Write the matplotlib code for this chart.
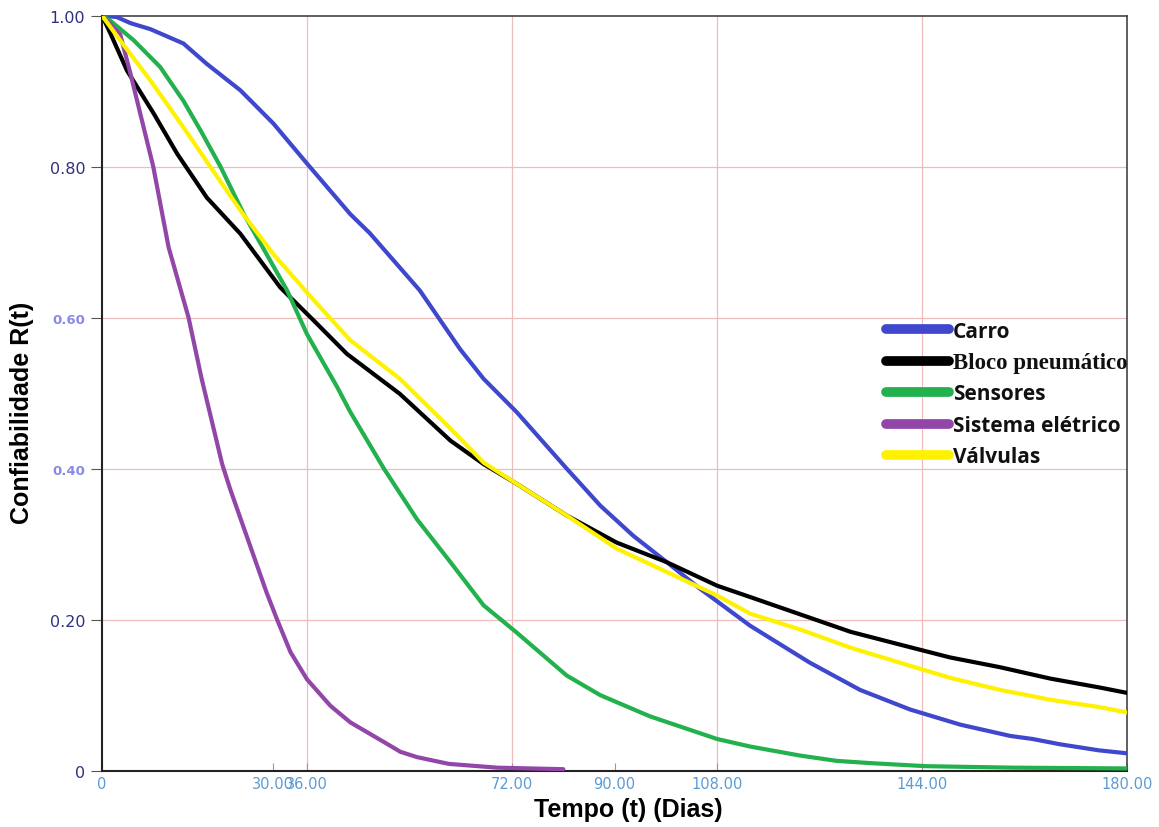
import matplotlib
matplotlib.use("Agg")
import matplotlib.pyplot as plt
from matplotlib.lines import Line2D

# ---------------- data ----------------
t_carro = [0, 2.6, 5, 8.5, 14.3, 18.4, 24.3, 30.1, 36, 43.6, 47, 55.8, 62.9, 67, 72.8,
           81.6, 87.5, 93.3, 99.2, 105, 113.8, 124.3, 133.1, 141.9, 150.7, 159.5, 163.4,
           168.2, 175, 180]
r_carro = [1.0, 0.998, 0.99, 0.982, 0.963, 0.936, 0.901, 0.857, 0.804, 0.737, 0.712,
           0.636, 0.558, 0.519, 0.475, 0.400, 0.351, 0.311, 0.276, 0.241, 0.192, 0.143,
           0.107, 0.081, 0.061, 0.046, 0.042, 0.035, 0.027, 0.023]

t_bloco = [0, 1.5, 4.4, 9.1, 13.2, 18.4, 24.3, 31.3, 37.2, 43, 52.3, 61.2, 67, 72.8,
           81.6, 90.4, 99.2, 108, 113.8, 122.6, 131.4, 140.1, 148.9, 157.7, 166.5,
           175.3, 180]
r_bloco = [1.0, 0.976, 0.927, 0.870, 0.817, 0.759, 0.711, 0.640, 0.596, 0.552, 0.499,
           0.437, 0.406, 0.380, 0.338, 0.302, 0.276, 0.245, 0.230, 0.207, 0.184, 0.167,
           0.150, 0.137, 0.122, 0.110, 0.103]

t_sens = [0, 1.5, 5.6, 10.2, 14.3, 17.3, 20.8, 24.9, 28.9, 32.5, 36, 41.3, 43.6, 49.5,
          55.3, 61.2, 67, 72.8, 81.6, 87.5, 96.2, 108, 113.8, 122.6, 129, 135, 144.6,
          160, 180]
r_sens = [1.0, 0.993, 0.967, 0.932, 0.887, 0.848, 0.800, 0.737, 0.684, 0.636, 0.578,
          0.508, 0.475, 0.400, 0.333, 0.276, 0.219, 0.183, 0.126, 0.100, 0.072, 0.042,
          0.032, 0.020, 0.013, 0.010, 0.006, 0.004, 0.003]

t_sist = [0, 3.2, 5.0, 9.0, 11.7, 15.2, 17.5, 21.1, 22.5, 26, 28.9, 30.7, 33.1, 36,
          40.1, 43.6, 49.5, 52.4, 55.3, 60.9, 69.4, 81]
r_sist = [1.0, 0.975, 0.923, 0.800, 0.693, 0.600, 0.519, 0.406, 0.373, 0.298, 0.236,
          0.201, 0.157, 0.121, 0.086, 0.064, 0.038, 0.025, 0.018, 0.009, 0.004, 0.002]

t_valv = [0, 3.2, 8.5, 14.3, 19, 24.3, 30.1, 37.2, 43.6, 52.3, 61.2, 67, 72.8, 81.6,
          90.4, 99.2, 108, 113.8, 122.6, 131.4, 140.1, 148.9, 157.7, 166.5, 175.3, 180]
r_valv = [1.0, 0.967, 0.914, 0.852, 0.800, 0.742, 0.684, 0.623, 0.570, 0.519, 0.453,
          0.408, 0.380, 0.338, 0.294, 0.263, 0.232, 0.208, 0.187, 0.163, 0.143, 0.123,
          0.107, 0.094, 0.084, 0.077]

series_names = ["Carro", "Bloco pneumático", "Sensores", "Sistema elétrico", "Válvulas"]
series_colors = ["#3f48cc", "#000000", "#22b14c", "#9146a8", "#fff200"]

x_ticks = [0, 30, 36, 72, 90, 108, 144, 180]
x_tick_labels = ["0", "30.00", "36.00", "72.00", "90.00", "108.00", "144.00", "180.00"]
x_grid = [36, 72, 108, 144]
y_ticks = [0, 0.2, 0.4, 0.6, 0.8, 1.0]
y_tick_labels = ["0", "0.20", "0.40", "0.60", "0.80", "1.00"]
zero_line_t = [62, 180]
zero_line_r = [0, 0]

# ---------------- figure ----------------
fig = plt.figure(figsize=(11.59, 8.28), dpi=100)
ax = fig.add_axes([0.088, 0.068, 0.8845, 0.912])

ax.set_xlim(0, 180)
ax.set_ylim(0, 1.0)

# grid
for g in x_grid:
    ax.axvline(g, color="#efbcbc", lw=0.9, zorder=0)
for g in y_ticks[1:-1]:
    ax.axhline(g, color="#efbcbc", lw=0.9, zorder=0)

# thin magenta baseline
ax.plot(zero_line_t, zero_line_r, color="#e040e0", lw=1.2, zorder=2, clip_on=False)

data = [(t_carro, r_carro), (t_bloco, r_bloco), (t_sens, r_sens), (t_sist, r_sist),
        (t_valv, r_valv)]
order = [3, 2, 0, 4, 1]
for i in order:
    t, r = data[i]
    ax.plot(t, r, color=series_colors[i], lw=3.0, solid_capstyle="round",
            solid_joinstyle="round", zorder=3 + i)

# ticks
ax.set_xticks(x_ticks)
ax.set_xticklabels(x_tick_labels)
ax.set_yticks(y_ticks)
ax.set_yticklabels(y_tick_labels)
ax.tick_params(axis="x", direction="in", length=6, color="#999999", labelsize=10.5,
               labelcolor="#5b9bd5", pad=4)
ax.tick_params(axis="y", direction="out", length=8, color="#555555", labelsize=11.5,
               labelcolor="#2e3180", pad=4)
for lbl in ax.get_yticklabels():
    if lbl.get_text() in ("0.60", "0.40"):
        lbl.set_color("#8a8ae6")
        lbl.set_fontsize(9.5)
        lbl.set_fontweight("bold")

for s in ["left", "bottom"]:
    ax.spines[s].set_color("#222222")
    ax.spines[s].set_linewidth(1.5)
for s in ["top", "right"]:
    ax.spines[s].set_color("#444444")
    ax.spines[s].set_linewidth(1.2)

ax.set_xlabel("Tempo (t) (Dias)", fontsize=18, fontweight="bold",
              family="Liberation Sans")
ax.xaxis.set_label_coords(0.513, -0.035)
ax.set_ylabel("Confiabilidade R(t)", fontsize=18, fontweight="bold",
              family="Liberation Sans")
ax.yaxis.set_label_coords(-0.066, 0.475)

# legend
handles = [Line2D([0], [0], color=c, lw=7, solid_capstyle="round") for c in series_colors]
leg = ax.legend(handles, series_names, loc="upper left", bbox_to_anchor=(0.757, 0.607),
                frameon=False, handlelength=3.0, handletextpad=0.2, labelspacing=0.5,
                prop={"family": "Open Sans", "weight": "bold", "size": 15},
                borderaxespad=0)
for txt in leg.get_texts():
    txt.set_color("#111111")
    if txt.get_text() == "Bloco pneumático":
        txt.set_family("Liberation Serif")
        txt.set_fontsize(16.5)

fig.savefig("out.png", dpi=100)
